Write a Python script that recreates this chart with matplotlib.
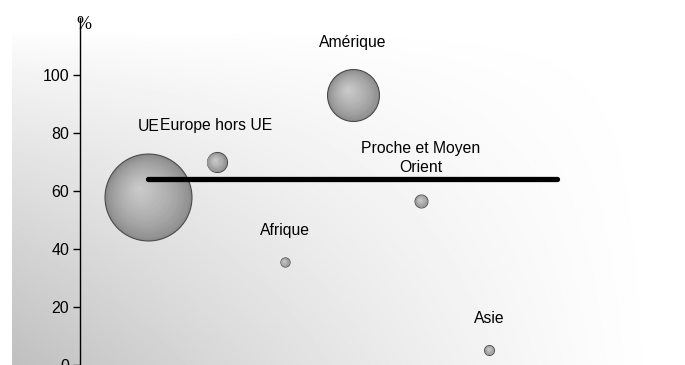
import matplotlib.pyplot as plt
import matplotlib.transforms as mtransforms
import numpy as np

plt.rcParams['font.family'] = ['Liberation Sans', 'DejaVu Sans']

# --- Data ---
zones = ['UE', 'Europe hors UE', 'Afrique', 'Amérique', 'Proche et Moyen\nOrient', 'Asie']
positions = [1, 2, 3, 4, 5, 6]
taux = [57.8, 70.0, 35.5, 93.1, 56.6, 5.2]          # %
poids = [100, 5.3, 1.1, 35.7, 2.2, 1.3]             # bubble weight (area)
moyenne = 64.0
moyenne_x = [1, 7]
yticks = [0, 20, 40, 60, 80, 100]

DPI = 100
fig = plt.figure(figsize=(6.85, 3.65), dpi=DPI)
ax = fig.add_axes([12 / 685, 0, 658 / 685, 1 - 28 / 365])
ax.set_xlim(-1.0, 8.65)
ymax = 116.2
ax.set_ylim(0, ymax)

# background: grey in the lower-left corner fading to white top and right
xf = np.linspace(0, 1, 400)
yd = np.linspace(0, 1, 300)
X, Y = np.meshgrid(xf, yd)
bg = 1 - 0.25 * Y ** 0.85 * (1 - X) ** 1.3
ax.imshow(bg, cmap='gray', vmin=0, vmax=1, extent=(0, 1, 0, 1), origin='upper',
          transform=ax.transAxes, aspect='auto', zorder=0, interpolation='bilinear')

# axis styling
for side in ['top', 'right', 'bottom']:
    ax.spines[side].set_visible(False)
ax.spines['left'].set_position(('data', 0))
ax.spines['left'].set_linewidth(1.0)
ax.set_xticks([])
ax.set_yticks(yticks)
ax.tick_params(axis='y', direction='out', length=5, width=1, labelsize=11.5, pad=3)

# the value axis runs a little past the plot area, up into the unit sign
ax.plot([0, 0], [ymax, ymax + 3.5], color='black', linewidth=1.0, clip_on=False, zorder=6)
ax.annotate('%', xy=(0, 1), xycoords=('data', 'axes fraction'), xytext=(3, 2.5),
            textcoords='offset points', ha='center', va='center',
            family='Liberation Serif', fontsize=13, zorder=6)

# shaded bubbles: stacked discs, lighter and shifted up-left toward the highlight
k = 39.2  # points^2 per unit of weight
n_layers = 40
for x, y, w in zip(positions, taux, poids):
    s = w * k
    r_pt = np.sqrt(s) / 2
    ax.scatter([x], [y], s=s, color='#8a8a8a', edgecolor='#4a4a4a', linewidth=0.8, zorder=3)
    for i in range(1, n_layers):
        f = 1 - i / n_layers
        t = (1 - f) ** 0.7
        c = 0.54 + (0.80 - 0.54) * t
        off = mtransforms.offset_copy(ax.transData, fig=fig,
                                      x=-0.22 * r_pt * (1 - f), y=0.22 * r_pt * (1 - f),
                                      units='points')
        ax.scatter([x], [y], s=s * f ** 2 * 0.97, color=(c, c, c), linewidth=0,
                   transform=off, zorder=3)

# labels above each bubble
for x, y, w, name in zip(positions, taux, poids, zones):
    r_pt = np.sqrt(w * k) / 2
    ax.annotate(name, xy=(x, y), xytext=(0, r_pt + 14), textcoords='offset points',
                ha='center', va='bottom', fontsize=11.3, linespacing=1.3, zorder=5)

# average line
ax.plot(moyenne_x, [moyenne, moyenne], color='black', linewidth=3.8,
        solid_capstyle='round', zorder=4)

fig.savefig('out.png', dpi=DPI)
